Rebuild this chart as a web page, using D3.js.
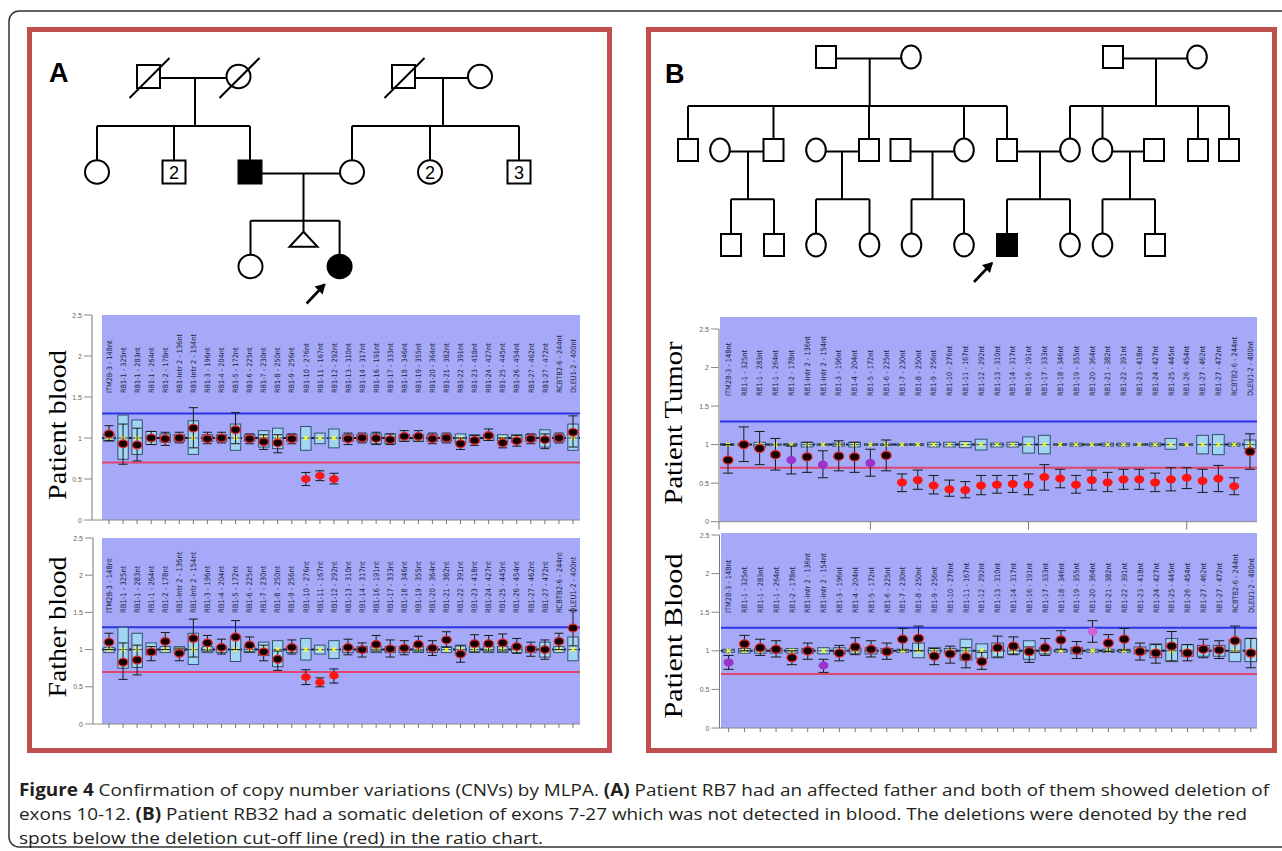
<!DOCTYPE html>
<html>
<head>
<meta charset="utf-8">
<script src="https://cdn.jsdelivr.net/npm/d3@7"></script>
<style>
  body { margin: 0; background: #fff; }
  svg { display: block; }
</style>
</head>
<body>
<svg id="fig" width="1282" height="851"></svg>
<script>
// ---------------- MLPA probes (same order in every ratio chart) ----------------
const probes = ["ITM2B-3 - 148nt", "RB1-1 - 325nt", "RB1-1 - 283nt", "RB1-1 - 264nt", "RB1-2 - 178nt",
  "RB1-Intr 2 - 136nt", "RB1-Intr 2 - 154nt", "RB1-3 - 196nt", "RB1-4 - 204nt", "RB1-5 - 172nt",
  "RB1-6 - 225nt", "RB1-7 - 230nt", "RB1-8 - 250nt", "RB1-9 - 256nt", "RB1-10 - 276nt",
  "RB1-11 - 167nt", "RB1-12 - 292nt", "RB1-13 - 310nt", "RB1-14 - 317nt", "RB1-16 - 191nt",
  "RB1-17 - 333nt", "RB1-18 - 346nt", "RB1-19 - 355nt", "RB1-20 - 364nt", "RB1-21 - 382nt",
  "RB1-22 - 391nt", "RB1-23 - 418nt", "RB1-24 - 427nt", "RB1-25 - 445nt", "RB1-26 - 454nt",
  "RB1-27 - 462nt", "RB1-27 - 472nt", "RCBTB2-6 - 244nt", "DLEU1-2 - 400nt"];

const yTicks = [0, 0.5, 1, 1.5, 2, 2.5];
const cutOffs = [0.7, 1.3];   // deletion / duplication lines

// A: patient blood (RB7)
const a1Ratio = [1.05, 0.93, 0.915, 1.0, 0.99, 1.0, 1.12, 0.99, 1.0, 1.10, 0.99, 0.955, 0.94, 0.99, 0.50, 0.54, 0.50,
  0.99, 1.0, 0.995, 0.98, 1.02, 1.02, 0.99, 1.0, 0.93, 0.97, 1.03, 0.94, 0.965, 0.99, 0.98, 1.0, 1.07];
const a1ErrLo = [0.97, 0.68, 0.72, 0.92, 0.91, 0.94, 0.88, 0.93, 0.94, 0.93, 0.93, 0.86, 0.82, 0.93, 0.42, 0.48, 0.44,
  0.92, 0.94, 0.92, 0.92, 0.96, 0.96, 0.93, 0.94, 0.86, 0.91, 0.97, 0.88, 0.90, 0.93, 0.87, 0.94, 0.89];
const a1ErrHi = [1.15, 1.17, 1.12, 1.08, 1.07, 1.07, 1.37, 1.07, 1.07, 1.31, 1.05, 1.04, 1.04, 1.05, 0.58, 0.60, 0.57,
  1.06, 1.06, 1.07, 1.05, 1.09, 1.09, 1.06, 1.06, 1.00, 1.03, 1.11, 1.00, 1.03, 1.05, 1.05, 1.06, 1.27];
const a1BoxLo = [0.96, 0.74, 0.80, 0.92, 0.95, 0.96, 0.80, 0.96, 0.96, 0.85, 0.96, 0.89, 0.87, 0.96, 0.85, 0.93, 0.88,
  0.96, 0.96, 0.93, 0.93, 0.96, 0.96, 0.96, 0.96, 0.94, 0.95, 0.97, 0.96, 0.95, 0.96, 0.89, 0.96, 0.85];
const a1BoxHi = [1.05, 1.28, 1.22, 1.08, 1.05, 1.04, 1.21, 1.04, 1.04, 1.17, 1.04, 1.09, 1.12, 1.04, 1.14, 1.06, 1.11,
  1.04, 1.04, 1.05, 1.05, 1.04, 1.04, 1.04, 1.04, 1.05, 1.04, 1.04, 1.04, 1.04, 1.04, 1.10, 1.04, 1.17];
const a1Call = "nnnnnnnnnnnnnnddd" + "nnnnnnnnnnnnnnnnn";

// A: father blood
const a2Ratio = [1.10, 0.83, 0.86, 0.97, 1.11, 0.95, 1.15, 1.09, 1.03, 1.17, 1.06, 0.97, 0.87, 1.03, 0.63, 0.56, 0.65,
  1.03, 1.0, 1.07, 1.01, 1.02, 1.07, 1.02, 1.13, 0.94, 1.08, 1.08, 1.09, 1.04, 1.01, 1.0, 1.11, 1.29];
const a2ErrLo = [1.0, 0.60, 0.66, 0.85, 1.0, 0.85, 0.90, 0.98, 0.94, 1.0, 0.97, 0.85, 0.72, 0.94, 0.53, 0.50, 0.55,
  0.93, 0.90, 0.98, 0.90, 0.93, 0.98, 0.92, 1.03, 0.83, 0.97, 0.98, 0.98, 0.95, 0.91, 0.87, 1.0, 1.05];
const a2ErrHi = [1.22, 1.09, 1.06, 1.04, 1.23, 1.02, 1.41, 1.19, 1.14, 1.39, 1.17, 1.06, 0.98, 1.13, 0.73, 0.62, 0.74,
  1.14, 1.09, 1.19, 1.13, 1.12, 1.18, 1.12, 1.24, 1.05, 1.20, 1.19, 1.21, 1.15, 1.10, 1.13, 1.22, 1.53];
const a2BoxLo = [0.96, 0.75, 0.76, 0.93, 0.96, 0.96, 0.80, 0.96, 0.96, 0.84, 0.96, 0.92, 0.77, 0.96, 0.86, 0.94, 0.88,
  0.96, 0.96, 0.96, 0.96, 0.96, 0.96, 0.96, 0.96, 0.94, 0.96, 0.96, 0.96, 0.96, 0.96, 0.90, 0.96, 0.85];
const a2BoxHi = [1.03, 1.30, 1.22, 1.09, 1.04, 1.04, 1.22, 1.04, 1.04, 1.18, 1.04, 1.10, 1.12, 1.04, 1.15, 1.06, 1.12,
  1.04, 1.04, 1.04, 1.04, 1.04, 1.04, 1.04, 1.04, 1.06, 1.04, 1.04, 1.04, 1.04, 1.04, 1.10, 1.04, 1.17];
const a2Call = "nnnnnnnnnnnnnnddd" + "nnnnnnnnnnnnnnnnn";

// B: patient tumor (RB32)
const b1Ratio = [0.80, 1.0, 0.95, 0.87, 0.80, 0.84, 0.74, 0.85, 0.84, 0.76, 0.86, 0.51, 0.54, 0.47, 0.42, 0.41, 0.47,
  0.48, 0.49, 0.48, 0.58, 0.56, 0.48, 0.54, 0.51, 0.55, 0.55, 0.51, 0.55, 0.57, 0.53, 0.56, 0.46, 0.91];
const b1ErrLo = [0.63, 0.78, 0.74, 0.67, 0.62, 0.64, 0.57, 0.66, 0.64, 0.59, 0.66, 0.39, 0.42, 0.36, 0.33, 0.31, 0.35,
  0.37, 0.38, 0.35, 0.41, 0.44, 0.37, 0.41, 0.39, 0.42, 0.42, 0.39, 0.40, 0.43, 0.38, 0.39, 0.35, 0.68];
const b1ErrHi = [1.0, 1.23, 1.17, 1.08, 0.98, 1.03, 0.92, 1.05, 1.03, 0.94, 1.06, 0.62, 0.67, 0.60, 0.54, 0.52, 0.60,
  0.60, 0.60, 0.62, 0.74, 0.68, 0.60, 0.67, 0.64, 0.68, 0.68, 0.63, 0.70, 0.70, 0.68, 0.73, 0.57, 1.14];
const b1BoxLo = [0.99, 0.99, 0.97, 0.99, 0.99, 0.97, 0.99, 0.98, 0.97, 0.99, 0.99, 0.99, 0.99, 0.97, 0.97, 0.96, 0.93,
  0.97, 0.97, 0.89, 0.88, 0.99, 0.98, 0.99, 0.98, 0.98, 0.99, 0.98, 0.94, 0.99, 0.88, 0.87, 0.98, 0.95];
const b1BoxHi = [1.01, 1.01, 1.03, 1.01, 1.01, 1.03, 1.01, 1.02, 1.03, 1.01, 1.01, 1.01, 1.01, 1.03, 1.03, 1.04, 1.07,
  1.02, 1.03, 1.10, 1.12, 1.01, 1.02, 1.01, 1.02, 1.02, 1.01, 1.02, 1.08, 1.01, 1.12, 1.13, 1.02, 1.06];
const b1Call = "nnnnpnpnnpn" + "dddddddddddddddddddddd" + "n";

// B: patient blood
const b2Ratio = [0.85, 1.09, 1.04, 1.02, 0.91, 1.0, 0.81, 0.97, 1.05, 1.02, 0.99, 1.15, 1.16, 0.93, 0.96, 0.92, 0.86,
  1.04, 1.06, 0.99, 1.04, 1.14, 1.01, 1.25, 1.10, 1.15, 0.99, 0.97, 1.06, 0.97, 1.02, 1.01, 1.13, 0.97];
const b2ErrLo = [0.76, 1.0, 0.94, 0.92, 0.82, 0.89, 0.72, 0.87, 0.95, 0.92, 0.89, 1.01, 1.0, 0.82, 0.84, 0.78, 0.76,
  0.92, 0.95, 0.85, 0.94, 1.02, 0.90, 1.11, 0.99, 1.01, 0.88, 0.84, 0.87, 0.87, 0.91, 0.90, 0.98, 0.78];
const b2ErrHi = [0.94, 1.20, 1.15, 1.13, 1.0, 1.10, 0.89, 1.07, 1.17, 1.13, 1.10, 1.29, 1.32, 1.03, 1.06, 1.04, 0.98,
  1.19, 1.18, 1.05, 1.16, 1.26, 1.12, 1.39, 1.21, 1.29, 1.10, 1.08, 1.25, 1.08, 1.15, 1.13, 1.32, 1.16];
const b2BoxLo = [0.98, 0.97, 0.97, 0.97, 0.97, 0.97, 0.96, 0.96, 0.97, 0.96, 0.97, 0.98, 0.91, 0.96, 0.97, 0.88, 0.90,
  0.91, 0.96, 0.89, 0.96, 0.98, 0.96, 0.98, 0.98, 0.98, 0.96, 0.91, 0.86, 0.93, 0.93, 0.93, 0.86, 0.86];
const b2BoxHi = [1.02, 1.03, 1.03, 1.03, 1.03, 1.03, 1.04, 1.04, 1.03, 1.04, 1.03, 1.02, 1.10, 1.04, 1.03, 1.15, 1.09,
  1.10, 1.04, 1.13, 1.04, 1.02, 1.04, 1.02, 1.02, 1.02, 1.05, 1.09, 1.16, 1.08, 1.07, 1.07, 1.14, 1.16];
const b2Call = "pnnnnnpnnnnnnnnnnnnnnnnmnnnnnnnnnn";

const callColor = { n: "#140000", d: "#ff1414", p: "#9a32cc", m: "#d060d8" };

const svg = d3.select("#fig");

// ---------------- outer frame + panel borders ----------------
svg.append("rect").attr("x", 9).attr("y", 11).attr("width", 1300).attr("height", 836)
  .attr("rx", 10).attr("fill", "none").attr("stroke", "#333").attr("stroke-width", 1.5);

svg.append("rect").attr("x", 29.5).attr("y", 29.5).attr("width", 580).attr("height", 721)
  .attr("fill", "none").attr("stroke", "#c0504d").attr("stroke-width", 5);
svg.append("rect").attr("x", 648.5).attr("y", 29.5).attr("width", 626).attr("height", 721)
  .attr("fill", "none").attr("stroke", "#c0504d").attr("stroke-width", 5);

svg.append("text").attr("x", 49).attr("y", 82).text("A")
  .attr("font-family", "Liberation Sans, Arial, sans-serif").attr("font-weight", "bold").attr("font-size", 27);
svg.append("text").attr("x", 665).attr("y", 83).text("B")
  .attr("font-family", "Liberation Sans, Arial, sans-serif").attr("font-weight", "bold").attr("font-size", 27);

// ---------------- pedigrees ----------------
const pedA = {
  genY: [76.5, 172, 266.5], sibY: [126, 220.7], sq: 23, rx: 12, ry: 11.7,
  people: [
    { id: "I1", sex: "m", x: 148.5, gen: 0, dead: true },
    { id: "I2", sex: "f", x: 238.5, gen: 0, dead: true },
    { id: "I3", sex: "m", x: 403.5, gen: 0, dead: true },
    { id: "I4", sex: "f", x: 480, gen: 0 },
    { id: "II1", sex: "f", x: 97, gen: 1 },
    { id: "II2", sex: "m", x: 174, gen: 1, n: "2" },
    { id: "II3", sex: "m", x: 250, gen: 1, aff: true },
    { id: "II4", sex: "f", x: 352, gen: 1 },
    { id: "II5", sex: "f", x: 430, gen: 1, n: "2" },
    { id: "II6", sex: "m", x: 519, gen: 1, n: "3" },
    { id: "III1", sex: "f", x: 250.5, gen: 2 },
    { id: "III2", sex: "t", x: 303.5, gen: 2 },
    { id: "III3", sex: "f", x: 339.6, gen: 2, aff: true, proband: true }
  ],
  unions: [
    { a: "I1", b: "I2", dx: 195, kids: ["II1", "II2", "II3"] },
    { a: "I3", b: "I4", dx: 443, kids: ["II4", "II5", "II6"] },
    { a: "II3", b: "II4", dx: 303.5, kids: ["III1", "III2", "III3"] }
  ]
};

const pedB = {
  genY: [57, 150, 245], sibY: [106, 199.3], sq: 20, sqH: 22, rx: 9.8, ry: 11.4,
  people: [
    { id: "a", sex: "m", x: 826, gen: 0 }, { id: "b", sex: "f", x: 911, gen: 0 },
    { id: "c", sex: "m", x: 1113, gen: 0 }, { id: "d", sex: "f", x: 1197, gen: 0 },
    { id: "e1", sex: "m", x: 688, gen: 1 }, { id: "e2", sex: "f", x: 720, gen: 1 },
    { id: "e3", sex: "m", x: 773.5, gen: 1 }, { id: "e4", sex: "f", x: 816, gen: 1 },
    { id: "e5", sex: "m", x: 869, gen: 1 }, { id: "e6", sex: "m", x: 900.5, gen: 1 },
    { id: "e7", sex: "f", x: 964, gen: 1 }, { id: "e8", sex: "m", x: 1007, gen: 1 },
    { id: "e9", sex: "f", x: 1070, gen: 1 }, { id: "e10", sex: "f", x: 1102.5, gen: 1 },
    { id: "e11", sex: "m", x: 1154, gen: 1 }, { id: "e12", sex: "m", x: 1198, gen: 1 },
    { id: "e13", sex: "m", x: 1229, gen: 1 },
    { id: "f1", sex: "m", x: 731, gen: 2 }, { id: "f2", sex: "m", x: 774, gen: 2 },
    { id: "f3", sex: "f", x: 816, gen: 2 }, { id: "f4", sex: "f", x: 869.5, gen: 2 },
    { id: "f5", sex: "f", x: 911.5, gen: 2 }, { id: "f6", sex: "f", x: 964, gen: 2 },
    { id: "f7", sex: "m", x: 1007, gen: 2, aff: true, proband: true }, { id: "f8", sex: "f", x: 1070, gen: 2 },
    { id: "f9", sex: "f", x: 1102.5, gen: 2 }, { id: "f10", sex: "m", x: 1155, gen: 2 }
  ],
  unions: [
    { a: "a", b: "b", dx: 869.7, kids: ["e1", "e3", "e5", "e7", "e8"] },
    { a: "c", b: "d", dx: 1156, kids: ["e9", "e10", "e12", "e13"] },
    { a: "e2", b: "e3", dx: 748, kids: ["f1", "f2"] },
    { a: "e4", b: "e5", dx: 842, kids: ["f3", "f4"] },
    { a: "e6", b: "e7", dx: 932.5, kids: ["f5", "f6"] },
    { a: "e8", b: "e9", dx: 1040, kids: ["f7", "f8"] },
    { a: "e10", b: "e11", dx: 1130, kids: ["f9", "f10"] }
  ]
};

function drawPedigree(ped) {
  const g = svg.append("g").attr("stroke", "#000").attr("stroke-width", 2).attr("fill", "none");
  const byId = new Map(ped.people.map(p => [p.id, p]));
  const sqH = ped.sqH || ped.sq;
  const halfW = p => p.sex === "m" ? ped.sq / 2 : ped.rx;
  const halfH = p => p.sex === "m" ? sqH / 2 : ped.ry;
  const cy = p => ped.genY[p.gen];
  const top = p => p.sex === "t" ? ped.sibY[p.gen - 1] + 11 : cy(p) - halfH(p);

  ped.unions.forEach(u => {
    const a = byId.get(u.a), b = byId.get(u.b);
    const yM = cy(a) + 1.5;
    g.append("line").attr("x1", a.x + halfW(a)).attr("x2", b.x - halfW(b)).attr("y1", yM).attr("y2", yM);
    const sy = ped.sibY[a.gen];
    g.append("line").attr("x1", u.dx).attr("x2", u.dx).attr("y1", yM).attr("y2", sy);
    const kids = u.kids.map(k => byId.get(k));
    const xs = kids.map(k => k.x).concat([u.dx]);
    g.append("line").attr("x1", d3.min(xs)).attr("x2", d3.max(xs)).attr("y1", sy).attr("y2", sy);
    kids.forEach(k => {
      g.append("line").attr("x1", k.x).attr("x2", k.x).attr("y1", sy).attr("y2", top(k));
    });
  });

  ped.people.forEach(p => {
    const fill = p.aff ? "#000" : "#fff";
    if (p.sex === "m") {
      g.append("rect").attr("x", p.x - ped.sq / 2).attr("y", cy(p) - sqH / 2)
        .attr("width", ped.sq).attr("height", sqH).attr("fill", fill);
    } else if (p.sex === "f") {
      g.append("ellipse").attr("cx", p.x).attr("cy", cy(p)).attr("rx", ped.rx).attr("ry", ped.ry).attr("fill", fill);
    } else {
      const t = top(p);
      g.append("path").attr("d", `M${p.x},${t} L${p.x + 14},${t + 15} L${p.x - 14},${t + 15} Z`).attr("fill", "#fff");
    }
    if (p.dead) {
      g.append("line").attr("x1", p.x - 19).attr("y1", cy(p) + 21.5).attr("x2", p.x + 21).attr("y2", cy(p) - 18.5);
    }
    if (p.n) {
      svg.append("text").attr("x", p.x).attr("y", cy(p) + 6.5).attr("text-anchor", "middle")
        .attr("font-family", "Liberation Sans, Arial, sans-serif").attr("font-size", 18).text(p.n);
    }
    if (p.proband) {
      const hx = p.x - 17, hy = cy(p) + 20;
      g.append("line").attr("x1", hx - 16).attr("y1", hy + 17).attr("x2", hx + 2).attr("y2", hy - 2).attr("stroke-width", 2.6);
      g.append("path").attr("d", `M${hx + 3},${hy - 3} L${hx - 8},${hy} L${hx},${hy + 8} Z`).attr("fill", "#000").attr("stroke", "none");
    }
  });
}
drawPedigree(pedA);
drawPedigree(pedB);

// ---------------- MLPA ratio charts ----------------
function drawChart(c) {
  const g = svg.append("g");
  const y = d3.scaleLinear().domain([0, 2.5]).range([c.yZero, c.yTop]);
  const x = d3.scalePoint().domain(probes).range([c.px0, c.px1]);
  const step = x.step();
  const rows = probes.map((p, i) => ({
    p, v: c.ratio[i], lo: c.errLo[i], hi: c.errHi[i], bl: c.boxLo[i], bh: c.boxHi[i], call: c.call[i]
  }));

  g.append("rect").attr("x", c.bgX0).attr("y", c.bgTop).attr("width", c.bgX1 - c.bgX0)
    .attr("height", c.yZero - c.bgTop).attr("fill", "#a5a9f7");

  // y axis
  g.append("line").attr("x1", c.axisX).attr("x2", c.axisX).attr("y1", y(2.5)).attr("y2", y(0))
    .attr("stroke", "#777").attr("stroke-width", 1);
  yTicks.forEach(t => {
    g.append("line").attr("x1", c.axisX - 8).attr("x2", c.axisX).attr("y1", y(t)).attr("y2", y(t))
      .attr("stroke", "#888");
    g.append("text").attr("x", c.axisX - 10).attr("y", y(t) + 2.5).attr("text-anchor", "end")
      .attr("font-family", "Liberation Sans, Arial, sans-serif").attr("font-size", 7).attr("fill", "#666").text(t);
  });
  // x axis
  g.append("line").attr("x1", c.axisX).attr("x2", c.bgX1).attr("y1", y(0)).attr("y2", y(0))
    .attr("stroke", "#888");
  const tickX = c.majorTicks ? [c.axisX].concat(c.majorTicks.map(i => x(probes[i]))) : probes.map(p => x(p));
  g.selectAll(".xt").data(tickX).join("line")
    .attr("x1", d => d).attr("x2", d => d).attr("y1", y(0)).attr("y2", y(0) + (c.majorTicks ? 8 : 4))
    .attr("stroke", "#777");

  // probe names
  g.selectAll(".pl").data(rows).join("text")
    .attr("transform", d => `translate(${x(d.p) + 2.7},${c.labelBase}) rotate(-90)`)
    .attr("font-family", "Liberation Sans Narrow, DejaVu Sans Condensed, sans-serif")
    .attr("font-size", c.labelSize).attr("fill", "#22223c").text(d => d.p);

  // cut-off lines
  g.append("line").attr("x1", c.bgX0).attr("x2", c.bgX1).attr("y1", y(cutOffs[1])).attr("y2", y(cutOffs[1]))
    .attr("stroke", "#2b36e6").attr("stroke-width", 2);
  g.append("line").attr("x1", c.bgX0).attr("x2", c.bgX1).attr("y1", y(cutOffs[0])).attr("y2", y(cutOffs[0]))
    .attr("stroke", "#e2446e").attr("stroke-width", 2);

  // reference median dashes
  g.append("line").attr("x1", c.px0 - step / 2).attr("x2", c.px1 + step / 2).attr("y1", y(1)).attr("y2", y(1))
    .attr("stroke", "#1c1c30").attr("stroke-width", 2).attr("stroke-dasharray", "5,4");

  // reference boxes
  const bw = step * 0.74;
  g.selectAll(".bx").data(rows).join("rect")
    .attr("x", d => x(d.p) - bw / 2).attr("y", d => y(d.bh))
    .attr("width", bw).attr("height", d => Math.max(1.5, y(d.bl) - y(d.bh)))
    .attr("fill", "#a2d4f4").attr("stroke", "#34506e").attr("stroke-width", 1);
  g.selectAll(".md").data(rows).join("line")
    .attr("x1", d => x(d.p) - bw / 2).attr("x2", d => x(d.p) + bw / 2).attr("y1", y(1)).attr("y2", y(1))
    .attr("stroke", "#4a5a70").attr("stroke-width", 1);
  // yellow reference marks
  g.selectAll(".ym").data(rows).join("path")
    .attr("d", d => { const cx = x(d.p), cy = y(1); return `M${cx - 2},${cy - 2}L${cx + 2},${cy + 2}M${cx - 2},${cy + 2}L${cx + 2},${cy - 2}`; })
    .attr("stroke", "#ffff2a").attr("stroke-width", 1.4);

  // sample error bars
  const cap = step * 0.32;
  const eb = g.selectAll(".eb").data(rows).join("g").attr("stroke", "#1a1a1a").attr("stroke-width", 1);
  eb.append("line").attr("x1", d => x(d.p)).attr("x2", d => x(d.p)).attr("y1", d => y(d.lo)).attr("y2", d => y(d.hi));
  eb.append("line").attr("x1", d => x(d.p) - cap).attr("x2", d => x(d.p) + cap).attr("y1", d => y(d.lo)).attr("y2", d => y(d.lo));
  eb.append("line").attr("x1", d => x(d.p) - cap).attr("x2", d => x(d.p) + cap).attr("y1", d => y(d.hi)).attr("y2", d => y(d.hi));

  // sample ratios
  g.selectAll(".dt").data(rows).join("ellipse")
    .attr("cx", d => x(d.p)).attr("cy", d => y(d.v)).attr("rx", c.dotRx).attr("ry", c.dotRy)
    .attr("fill", d => callColor[d.call])
    .attr("stroke", d => d.call === "n" ? "#e22a2a" : "none").attr("stroke-width", 1.3);

  // row title
  svg.append("text").attr("transform", `translate(${c.titleX},${c.titleY}) rotate(-90)`)
    .attr("text-anchor", "middle").attr("font-family", "Liberation Serif, Times New Roman, serif")
    .attr("font-size", 26).attr("textLength", c.titleLen).attr("lengthAdjust", "spacingAndGlyphs")
    .attr("fill", "#000").text(c.title);
}

drawChart({ title: "Patient blood", titleX: 66, titleY: 425, titleLen: 150,
  yZero: 520, yTop: 315, bgTop: 315, bgX0: 102, bgX1: 580, axisX: 92, px0: 109, px1: 573,
  labelBase: 393, labelSize: 7.3, dotRx: 4.8, dotRy: 3.8,
  ratio: a1Ratio, errLo: a1ErrLo, errHi: a1ErrHi, boxLo: a1BoxLo, boxHi: a1BoxHi, call: a1Call });

drawChart({ title: "Father blood", titleX: 66, titleY: 627, titleLen: 141,
  yZero: 724, yTop: 538, bgTop: 538, bgX0: 102, bgX1: 580, axisX: 93, px0: 109, px1: 573,
  labelBase: 613, labelSize: 7.6, dotRx: 4.8, dotRy: 3.8,
  ratio: a2Ratio, errLo: a2ErrLo, errHi: a2ErrHi, boxLo: a2BoxLo, boxHi: a2BoxHi, call: a2Call });

drawChart({ title: "Patient Tumor", titleX: 682, titleY: 423, titleLen: 163,
  yZero: 521.7, yTop: 329, bgTop: 317, bgX0: 720, bgX1: 1257, axisX: 719, px0: 728, px1: 1250,
  labelBase: 396, labelSize: 7.4, dotRx: 5, dotRy: 4, majorTicks: [9, 19, 29],
  ratio: b1Ratio, errLo: b1ErrLo, errHi: b1ErrHi, boxLo: b1BoxLo, boxHi: b1BoxHi, call: b1Call });

drawChart({ title: "Patient Blood", titleX: 682, titleY: 636, titleLen: 165,
  yZero: 728, yTop: 535, bgTop: 533, bgX0: 721, bgX1: 1257, axisX: 719.5, px0: 728.6, px1: 1250.8,
  labelBase: 613, labelSize: 7.4, dotRx: 5, dotRy: 4,
  ratio: b2Ratio, errLo: b2ErrLo, errHi: b2ErrHi, boxLo: b2BoxLo, boxHi: b2BoxHi, call: b2Call });

// ---------------- caption ----------------
const captionLines = [
  [["Figure 4", true], [" Confirmation of copy number variations (CNVs) by MLPA. ", false], ["(A)", true],
   [" Patient RB7 had an affected father and both of them showed deletion of", false]],
  [["exons 10-12. ", false], ["(B)", true],
   [" Patient RB32 had a somatic deletion of exons 7-27 which was not detected in blood. The deletions were denoted by the red", false]],
  [["spots below the deletion cut-off line (red) in the ratio chart.", false]]
];
const captionWidth = [1250, 1228, 524];
const captionBase = [796, 820, 844];

captionLines.forEach((line, i) => {
  // measure each run at natural width, then squeeze all runs of the line by one factor
  const runs = line.map(([s, b]) => {
    const t = svg.append("text").attr("y", captionBase[i]).attr("xml:space", "preserve")
      .attr("font-family", "Open Sans, Noto Sans, sans-serif").attr("font-size", 17).attr("fill", "#231f20")
      .attr("font-weight", b ? "bold" : "normal").style("white-space", "pre").text(s);
    return { t, w: t.node().getComputedTextLength() };
  });
  const k = captionWidth[i] / d3.sum(runs, r => r.w);
  let cx = 19;
  runs.forEach(r => {
    r.t.attr("x", cx).attr("textLength", r.w * k).attr("lengthAdjust", "spacingAndGlyphs");
    cx += r.w * k;
  });
});
</script>
</body>
</html>
